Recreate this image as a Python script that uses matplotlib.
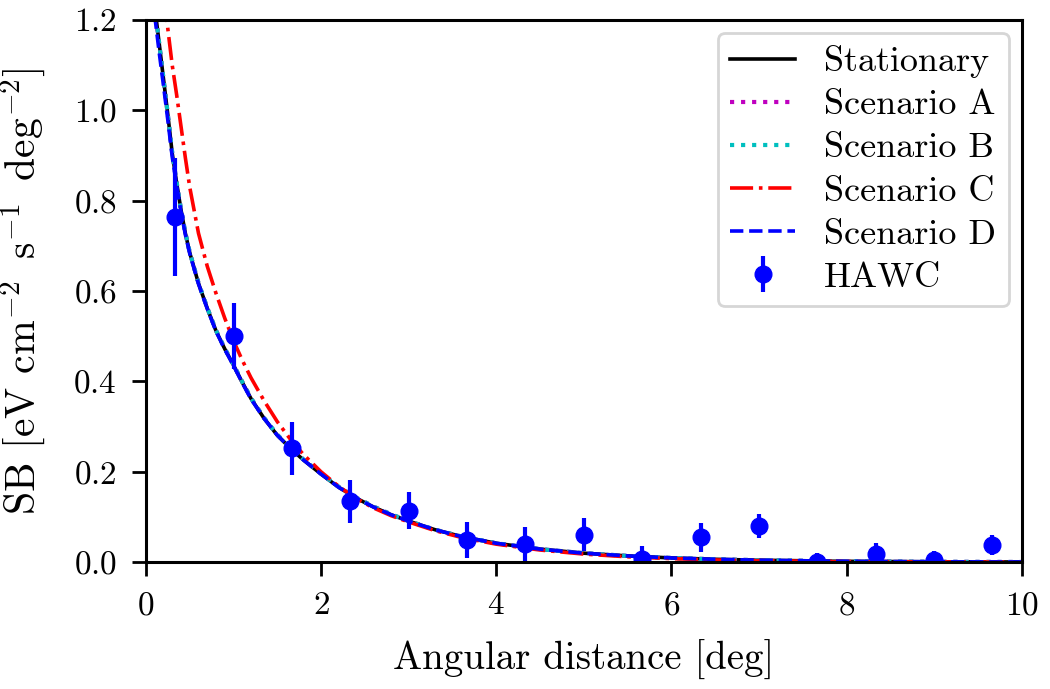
import matplotlib
matplotlib.use("Agg")
import matplotlib.pyplot as plt

plt.rcParams['font.family'] = ['cmr10']
plt.rcParams['mathtext.fontset'] = 'cm'
plt.rcParams['axes.formatter.use_mathtext'] = True

# model curves
x_model = [0.1, 0.15, 0.2, 0.25, 0.3, 0.35, 0.4, 0.45, 0.5, 0.6, 0.7, 0.8, 0.9, 1.0,
           1.1, 1.2, 1.35, 1.5, 1.65, 1.8, 2.0, 2.2, 2.4, 2.6, 2.8, 3.0, 3.3, 3.6,
           4.0, 4.5, 5.0, 5.5, 6.0, 6.5, 7.0, 8.0, 9.0, 10.0]
stationary = [1.23, 1.15, 1.07, 0.99, 0.905, 0.84, 0.78, 0.728, 0.685, 0.617, 0.562,
              0.512, 0.472, 0.436, 0.398, 0.362, 0.318, 0.281, 0.252, 0.226, 0.195,
              0.166, 0.142, 0.122, 0.105, 0.091, 0.072, 0.057, 0.042, 0.029, 0.020,
              0.014, 0.0095, 0.0065, 0.0045, 0.002, 0.001, 0.0005]
scen_a = [1.23, 1.15, 1.07, 0.99, 0.906, 0.841, 0.781, 0.729, 0.686, 0.618, 0.563,
          0.513, 0.473, 0.437, 0.399, 0.363, 0.319, 0.282, 0.253, 0.227, 0.196,
          0.167, 0.143, 0.123, 0.106, 0.091, 0.072, 0.057, 0.042, 0.029, 0.020,
          0.014, 0.0095, 0.0065, 0.0045, 0.002, 0.001, 0.0005]
scen_b = [1.23, 1.15, 1.07, 0.99, 0.906, 0.841, 0.781, 0.729, 0.686, 0.618, 0.563,
          0.513, 0.473, 0.437, 0.399, 0.363, 0.319, 0.282, 0.253, 0.227, 0.196,
          0.167, 0.143, 0.123, 0.106, 0.091, 0.072, 0.057, 0.042, 0.029, 0.020,
          0.014, 0.0095, 0.0065, 0.0045, 0.002, 0.001, 0.0005]
scen_c = [1.45, 1.36, 1.27, 1.18, 1.1, 1.035, 0.965, 0.895, 0.83, 0.728, 0.655,
          0.595, 0.54, 0.49, 0.447, 0.408, 0.357, 0.311, 0.272, 0.238, 0.200,
          0.168, 0.141, 0.120, 0.103, 0.089, 0.070, 0.055, 0.040, 0.027, 0.018,
          0.012, 0.008, 0.005, 0.0035, 0.0015, 0.0007, 0.0003]
scen_d = [1.21, 1.13, 1.055, 0.978, 0.897, 0.834, 0.776, 0.725, 0.683, 0.616, 0.561,
          0.511, 0.471, 0.435, 0.397, 0.361, 0.318, 0.281, 0.252, 0.226, 0.195,
          0.166, 0.142, 0.122, 0.105, 0.091, 0.072, 0.057, 0.042, 0.029, 0.020,
          0.014, 0.0095, 0.0065, 0.0045, 0.002, 0.001, 0.0005]

# HAWC data
x_hawc = [0.333, 1.0, 1.667, 2.333, 3.0, 3.667, 4.333, 5.0, 5.667, 6.333, 7.0,
          7.667, 8.333, 9.0, 9.667]
y_hawc = [0.764, 0.50, 0.252, 0.135, 0.114, 0.050, 0.041, 0.061, 0.008, 0.055,
          0.080, 0.0, 0.018, 0.006, 0.038]
err_hawc = [0.13, 0.073, 0.058, 0.048, 0.041, 0.04, 0.038, 0.037, 0.027, 0.032,
            0.027, 0.02, 0.025, 0.019, 0.023]

fig = plt.figure(figsize=(10.5, 6.89), dpi=100)
ax = fig.add_axes([0.139, 0.184, 0.834, 0.787])

ax.plot(x_model, stationary, 'k-', lw=2.6, label='Stationary')
ax.plot(x_model, scen_a, 'm:', lw=3, label='Scenario A')
ax.plot(x_model, scen_b, 'c:', lw=3, label='Scenario B')
ax.plot(x_model, scen_c, 'r-.', lw=2.6, label='Scenario C')
ax.plot(x_model, scen_d, 'b--', lw=2.6, label='Scenario D')
ax.errorbar(x_hawc, y_hawc, yerr=err_hawc, fmt='bo', ms=12, elinewidth=3,
            capsize=0, label='HAWC')

ax.set_xlim(0, 10)
ax.set_ylim(0, 1.2)
ax.set_xlabel('Angular distance [deg]', fontsize=28, labelpad=14)
ax.set_ylabel(r'SB [eV cm$^{-2}\,$ s$^{-1}\,$ deg$^{-2}$]', fontsize=30)
ax.yaxis.set_label_coords(-0.112, 0.5)
ax.tick_params(labelsize=24, length=10, width=2, direction='out', pad=11)
for s in ax.spines.values():
    s.set_linewidth(2.2)

leg = ax.legend(loc='upper right', fontsize=26, handlelength=1.8, borderpad=0.35,
                labelspacing=0.3, handletextpad=0.8, borderaxespad=0.35)
leg.get_frame().set_linewidth(2)

fig.savefig('out.png', dpi=100)
